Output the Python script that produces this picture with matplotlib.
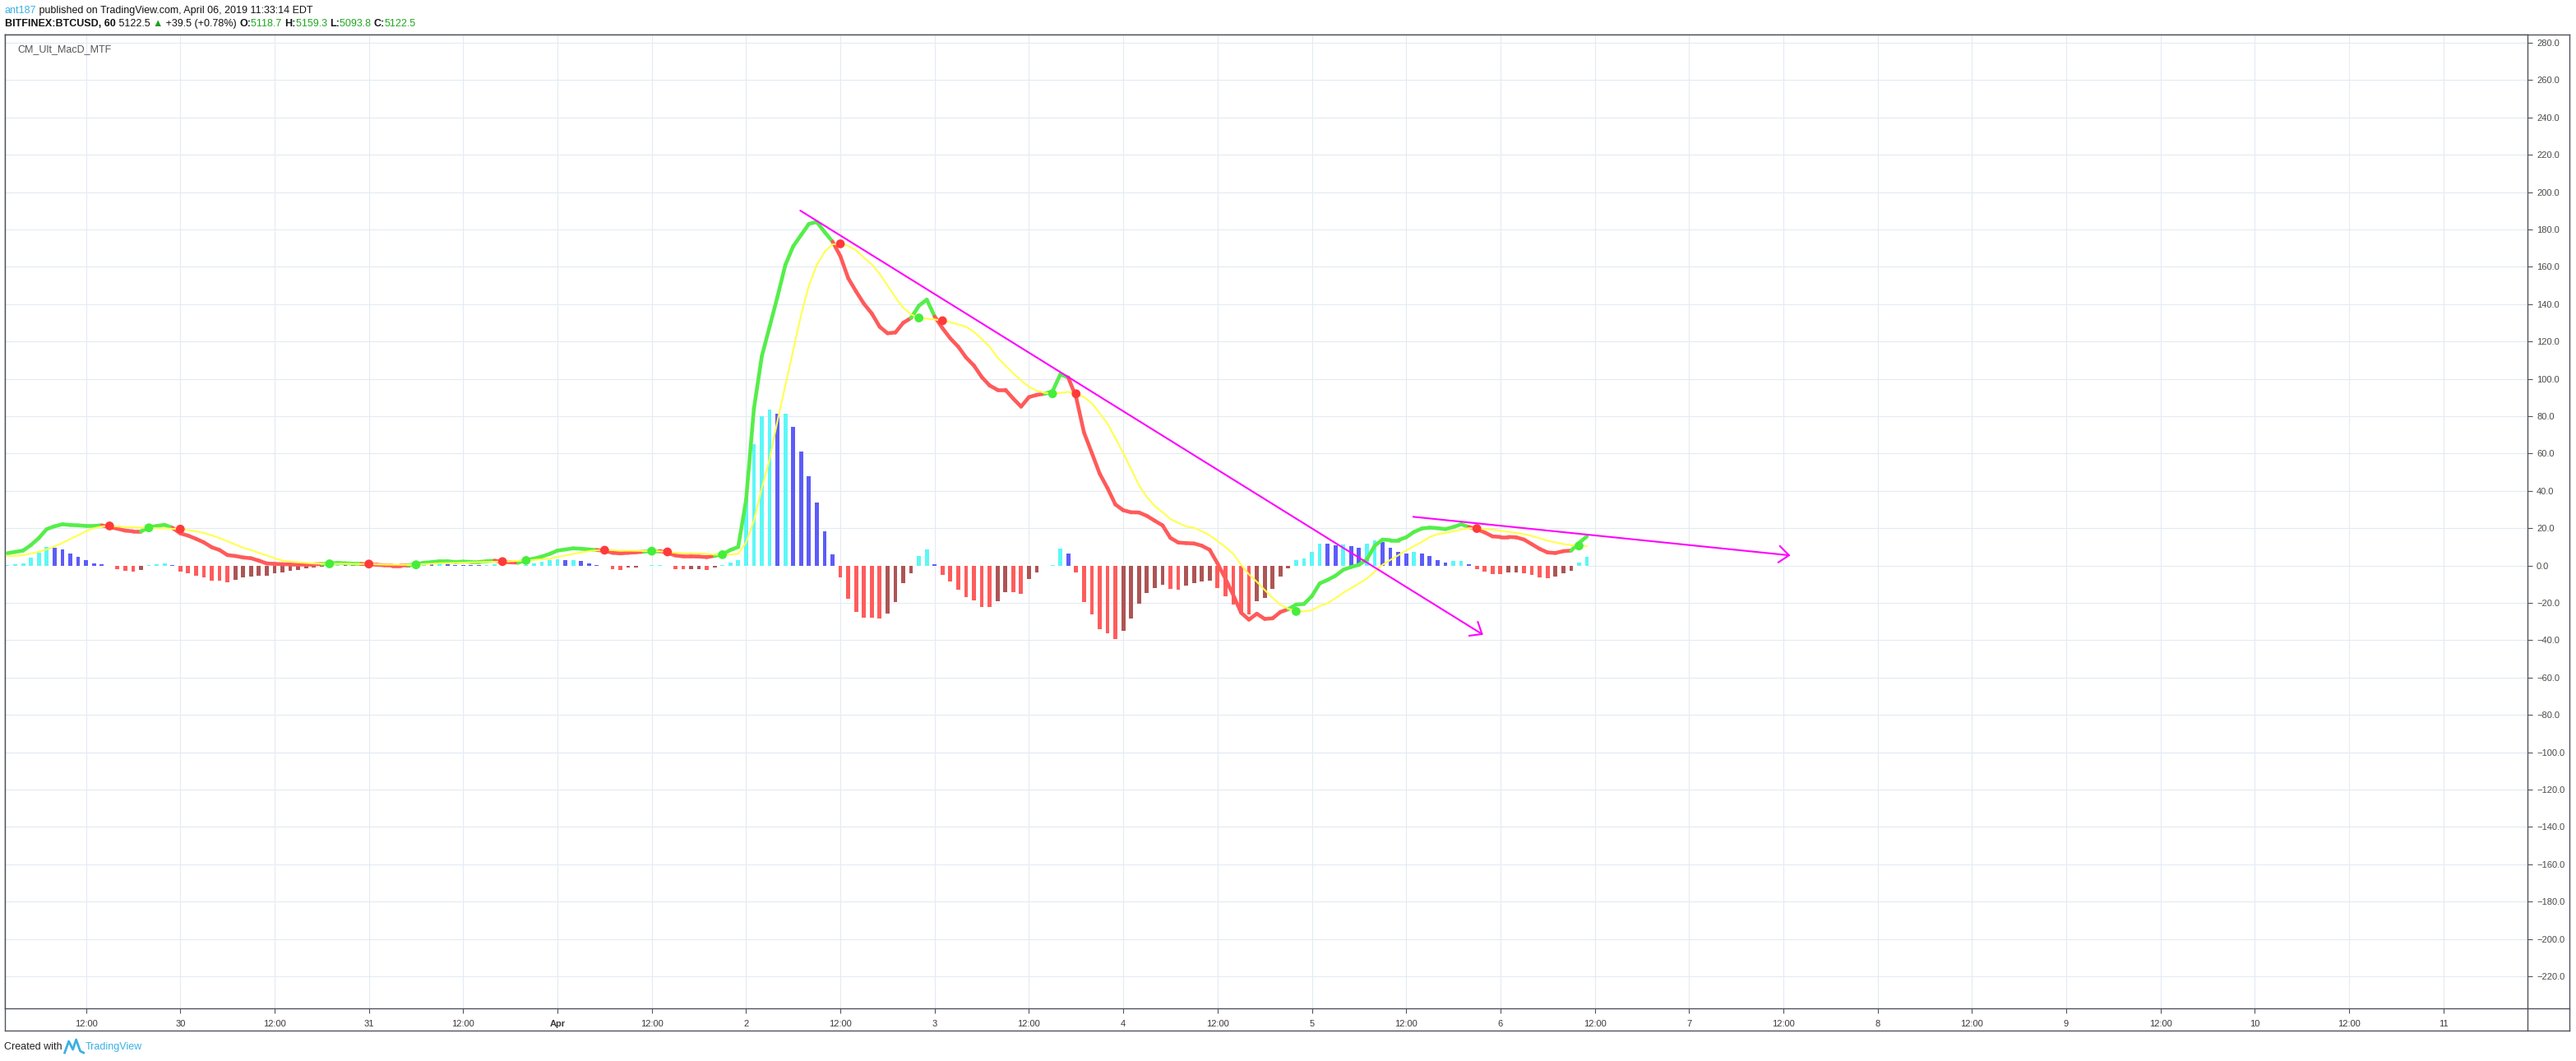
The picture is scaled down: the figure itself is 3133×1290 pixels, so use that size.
import numpy as np
import matplotlib
matplotlib.use("Agg")
import matplotlib.pyplot as plt
from matplotlib.collections import LineCollection
from matplotlib.lines import Line2D

W, H = 3133, 1290

# hourly bars, counted in hours from 29 Mar 2019 00:00
hours = list(range(2, 204))

macd = [
    6.6, 7.3, 8.0, 11.0, 14.7, 19.5, 21.0, 22.1, 21.7, 21.5, 21.2, 21.2,
    21.5, 20.6, 19.7, 18.7, 18.3, 18.3, 20.4, 21.2, 21.8, 20.2, 17.2, 16.0,
    14.3, 12.4, 9.8, 8.3, 5.6, 5.1, 4.3, 3.9, 2.6, 1.1, 0.9, 0.7,
    0.6, 0.6, 0.6, 0.6, 0.8, 1.1, 1.4, 1.2, 1.0, 0.9, 0.6, 0.4,
    0.1, 0.0, 0.0, 0.1, 0.7, 1.5, 1.8, 2.3, 2.3, 1.8, 2.1, 1.9,
    1.9, 2.3, 2.6, 1.9, 1.7, 1.5, 2.9, 3.7, 4.8, 6.2, 8.0, 8.6,
    9.2, 9.0, 8.6, 8.3, 7.9, 6.8, 6.5, 6.8, 7.1, 7.4, 7.8, 7.8,
    6.8, 5.4, 4.9, 4.9, 4.8, 4.5, 5.2, 6.0, 8.3, 9.9, 35.0, 84.0,
    112.0, 128.0, 144.0, 161.0, 171.0, 177.0, 183.0, 184.0, 178.6, 173.5, 165.7, 153.9,
    146.8, 140.2, 135.0, 127.9, 124.4, 124.8, 130.0, 132.6, 139.2, 142.4, 133.4, 127.1,
    121.6, 117.2, 111.4, 107.1, 100.9, 96.4, 94.1, 94.1, 89.4, 85.1, 90.2, 91.4,
    92.0, 93.3, 102.4, 100.7, 90.2, 71.3, 60.3, 49.2, 41.4, 32.7, 29.6, 28.5,
    28.4, 26.6, 24.0, 21.5, 14.8, 12.3, 12.0, 11.8, 10.6, 8.4, 1.1, -7.0,
    -15.8, -25.3, -29.0, -25.8, -28.6, -28.3, -24.9, -23.4, -20.9, -20.6, -16.4, -9.6,
    -7.7, -5.5, -2.3, -0.8, 0.4, 3.3, 10.6, 13.9, 13.6, 13.6, 15.1, 18.0,
    19.8, 20.3, 20.0, 19.5, 20.6, 22.1, 20.6, 19.5, 17.7, 15.6, 15.3, 15.3,
    15.1, 13.9, 11.4, 8.9, 7.0, 6.7, 7.7, 8.0, 12.1, 15.6,
]

signal = [
    5.1, 5.2, 5.5, 6.4, 7.4, 8.6, 10.3, 12.1, 14.2, 16.2, 18.3, 20.0,
    20.9, 21.2, 20.9, 20.6, 20.5, 20.3, 20.2, 20.0, 19.9, 19.7, 19.5, 19.0,
    18.3, 17.4, 16.2, 14.7, 13.0, 11.2, 9.5, 8.3, 6.8, 5.4, 3.9, 2.6,
    2.1, 1.7, 1.4, 1.1, 0.95, 0.9, 0.9, 0.9, 0.85, 0.8, 0.8, 0.6,
    0.5, 0.45, 0.4, 0.4, 0.4, 0.7, 0.9, 1.2, 1.3, 1.4, 1.5, 1.7,
    1.8, 1.9, 2.0, 2.1, 2.3, 2.5, 2.7, 3.0, 3.3, 3.7, 4.5, 5.4,
    6.2, 7.0, 7.7, 8.1, 8.2, 8.2, 8.0, 7.95, 7.9, 7.8, 7.7, 7.6,
    7.3, 6.8, 6.5, 6.5, 6.4, 6.2, 5.9, 5.8, 5.9, 6.3, 12.3, 24.0,
    41.4, 57.0, 77.6, 96.4, 115.3, 134.2, 150.0, 161.0, 168.0, 172.0, 172.3, 171.2,
    168.8, 164.9, 161.3, 156.2, 150.0, 143.6, 138.1, 134.5, 132.6, 132.2, 131.8, 131.1,
    130.3, 129.2, 127.9, 125.1, 121.3, 117.2, 111.4, 107.1, 103.0, 99.1, 95.7, 93.6,
    92.5, 92.0, 92.5, 93.0, 92.0, 90.2, 87.0, 81.5, 76.0, 68.1, 60.3, 51.6,
    43.0, 36.7, 31.9, 28.5, 24.9, 22.8, 20.9, 20.2, 18.3, 16.2, 13.1, 9.9,
    6.2, 0.4, -4.8, -8.7, -13.1, -17.3, -21.0, -23.1, -24.6, -24.6, -23.9, -21.7,
    -20.2, -17.5, -14.6, -12.1, -9.6, -7.0, -3.3, 0.4, 3.0, 5.5, 8.0, 10.4,
    12.6, 15.3, 16.8, 17.4, 18.3, 19.2, 20.0, 19.8, 19.5, 19.2, 18.6, 18.0,
    17.5, 16.8, 15.8, 14.6, 13.3, 12.4, 11.5, 10.9, 10.5, 10.3,
]

hist = [
    0.3, 0.7, 1.0, 4.2, 6.8, 9.8, 9.6, 8.6, 6.2, 4.6, 2.9, 1.1,
    0.6, -0.3, -2.1, -2.7, -3.2, -2.3, 0.1, 0.5, 1.0, 0.3, -3.2, -4.0,
    -5.4, -6.2, -8.0, -8.1, -8.9, -7.6, -6.2, -5.8, -5.4, -5.3, -4.2, -3.6,
    -3.0, -2.6, -1.7, -1.2, -0.8, 0.3, 0.5, 0.3, 0.2, 0.1, -0.2, -0.25,
    -0.3, -1.1, -1.0, -0.9, 0.2, 1.1, 0.7, 0.75, 0.7, 0.4, 0.3, 0.2,
    0.1, 0.3, 0.5, -0.2, -0.3, -0.35, 0.2, 1.1, 2.0, 2.7, 3.3, 3.0,
    3.05, 2.4, 1.1, 0.3, -0.2, -2.0, -2.3, -1.2, -1.15, -0.3, 0.1, 0.15,
    -0.2, -1.8, -2.1, -2.0, -1.95, -2.2, -1.2, 0.1, 1.6, 2.8, 35.9, 65.0,
    80.0, 83.5, 81.3, 81.5, 74.3, 61.0, 47.8, 33.7, 18.3, 6.0, -6.3, -17.6,
    -24.7, -27.8, -27.9, -28.3, -25.6, -19.5, -9.3, -4.2, 4.9, 8.7, 0.5, -5.0,
    -8.5, -12.9, -17.1, -18.9, -22.0, -22.1, -19.0, -14.2, -14.5, -15.1, -7.1, -3.6,
    -0.3, 0.2, 9.0, 6.5, -3.9, -19.5, -26.3, -34.0, -36.2, -39.2, -35.2, -28.3,
    -20.5, -14.6, -12.1, -10.2, -12.4, -12.9, -10.8, -9.3, -8.4, -8.0, -12.0, -16.4,
    -20.9, -25.6, -26.3, -19.0, -17.3, -12.6, -5.9, -1.5, 2.9, 3.7, 7.3, 11.7,
    11.6, 10.8, 11.1, 10.4, 9.5, 11.7, 13.3, 12.6, 9.5, 7.3, 6.5, 7.3,
    6.5, 5.1, 2.9, 1.7, 2.4, 2.5, 0.7, -1.8, -3.2, -4.4, -4.5, -3.9,
    -3.6, -4.0, -5.0, -6.3, -6.6, -5.7, -4.1, -2.8, 1.4, 4.5,
]

tick_hours = [12, 24, 36, 48, 60, 72, 84, 96, 108, 120, 132, 144, 156,
              168, 180, 192, 204, 216, 228, 240, 252, 264, 276, 288, 300, 312]
tick_labels = ["12:00", "30", "12:00", "31", "12:00", "Apr", "12:00", "2", "12:00",
               "3", "12:00", "4", "12:00", "5", "12:00", "6", "12:00", "7", "12:00",
               "8", "12:00", "9", "12:00", "10", "12:00", "11"]
y_ticks = list(range(-220, 281, 20))

# hand drawn trend lines (start, end)
trend_down = [(102.9, 190.1), (189.8, -37.1)]
trend_flat = [(180.9, 26.1), (228.9, 5.4)]

plt.rcParams["font.family"] = ["Liberation Sans", "DejaVu Sans"]
narrow = ["Liberation Sans Narrow", "Liberation Sans", "DejaVu Sans"]
border = "#50535e"

fig = plt.figure(figsize=(W / 100, H / 100), dpi=100)


def px_rect(x0, y0, x1, y1):
    return [x0 / W, 1 - y1 / H, (x1 - x0) / W, (y1 - y0) / H]


# outer frame incl. price and time scales
frame = fig.add_axes(px_rect(6, 42, 3125, 1253))
frame.set_xticks([])
frame.set_yticks([])
for s in frame.spines.values():
    s.set_color(border)
    s.set_linewidth(1.0)

ax = fig.add_axes(px_rect(6, 42, 3074, 1226))
for s in ax.spines.values():
    s.set_color(border)
    s.set_linewidth(1.0)
fig.add_artist(Line2D([3074 / W, 3125 / W], [1 - 1226 / H] * 2, color=border, lw=1.0))
fig.add_artist(Line2D([3074 / W] * 2, [1 - 1226 / H, 1 - 1253 / H], color=border, lw=1.0))

ax.set_xlim(1.685, 322.7)
ax.set_ylim(-237.2, 284.4)
ax.set_axisbelow(True)
ax.grid(True, color="#e3ebf2", lw=0.8)

# histogram colours: rising / falling above and below zero
bar_colors = []
for i, v in enumerate(hist):
    prev = hist[i - 1] if i > 0 else v - 1
    if v > 0:
        bar_colors.append("#5cf7f7" if v > prev else "#5c5cf9")
    else:
        bar_colors.append("#ff5c5c" if v < prev else "#ad5555")

ax.plot([hours[0], hours[-1]], [0, 0], color="white", lw=1.6, zorder=1.5)
ax.bar(hours, hist, width=0.5, color=bar_colors, linewidth=0, zorder=2)

up = [m >= s for m, s in zip(macd, signal)]
pts = np.column_stack([hours, macd])
segs = [[pts[i - 1], pts[i]] for i in range(1, len(pts))]
seg_colors = ["#55ee4a" if up[i] else "#ff5a5a" for i in range(1, len(pts))]
lc = LineCollection(segs, colors=seg_colors, linewidths=3.3, capstyle="round",
                    joinstyle="round", zorder=3)
ax.add_collection(lc)

ax.plot(hours, signal, color="#ffff4d", lw=1.5, zorder=4)

cx, cy, cc = [], [], []
for i in range(1, len(hours)):
    if up[i] != up[i - 1]:
        cx.append(hours[i])
        cy.append(signal[i])
        cc.append("#45ee3a" if up[i] else "#ff3a3a")
ax.scatter(cx, cy, s=60, c=cc, linewidths=0, zorder=5)

for (x0, y0), (x1, y1) in (trend_down, trend_flat):
    ax.annotate("", xy=(x1, y1), xytext=(x0, y0),
                arrowprops=dict(arrowstyle="->,head_length=0.55,head_width=0.45",
                                color="#ff00ff", lw=1.5, shrinkA=0, shrinkB=0,
                                mutation_scale=16),
                zorder=6)

ax.yaxis.tick_right()
ax.set_yticks(y_ticks)
ax.set_yticklabels([f"{v:.1f}".replace("-", "\u2212") for v in y_ticks])
ax.tick_params(axis="y", length=4, width=0.8, color=border, labelsize=8,
               labelcolor="#4a4a4a", pad=4)
ax.set_xticks(tick_hours)
ax.set_xticklabels(tick_labels, family=narrow)
ax.tick_params(axis="x", length=4, width=0.8, color=border, labelsize=8,
               labelcolor="#3a3a3a", pad=6)
for lab in ax.get_xticklabels():
    if lab.get_text() == "Apr":
        lab.set_fontweight("bold")

ax.text(15 / 3068, 1 - (60 - 42) / 1184, "CM_Ult_MacD_MTF", transform=ax.transAxes,
        fontsize=9, color="#555555", va="center", ha="left")

renderer = fig.canvas.get_renderer()


def text_run(x_px, y_px, parts, size=9):
    x = x_px
    for s, color, weight in parts:
        t = fig.text(x / W, 1 - y_px / H, s, color=color, fontweight=weight,
                     fontsize=size, va="center", ha="left")
        x += t.get_window_extent(renderer).width
    return x


dark = "#131313"
green = "#1fa81f"
text_run(6, 13, [("ant187", "#3bb0e2", "normal"),
                 (" published on TradingView.com, April 06, 2019 11:33:14 EDT", dark, "normal")])
text_run(6, 29, [("BITFINEX:BTCUSD, 60", dark, "bold"), (" 5122.5 ", dark, "normal"),
                 ("\u25B2", "#1f9f1f", "normal"), (" +39.5 (+0.78%) ", dark, "normal"),
                 ("O:", dark, "bold"), ("5118.7 ", green, "normal"),
                 ("H:", dark, "bold"), ("5159.3 ", green, "normal"),
                 ("L:", dark, "bold"), ("5093.8 ", green, "normal"),
                 ("C:", dark, "bold"), ("5122.5", green, "normal")])

# footer
t = fig.text(5 / W, 1 - 1273 / H, "Created with", fontsize=9, color="#222222",
             va="center", ha="left", family=narrow)
xe = 5 + t.get_window_extent(renderer).width + 3
logo_x = [xe, xe + 5, xe + 10, xe + 14, xe + 19, xe + 23]
logo_y = [1280, 1266, 1276, 1264, 1278, 1280]
fig.add_artist(Line2D([v / W for v in logo_x], [1 - v / H for v in logo_y],
                      color="#3bb0e2", lw=2.0))
fig.text((xe + 25) / W, 1 - 1273 / H, "TradingView", fontsize=9, color="#3bb0e2",
         va="center", ha="left", family=narrow)

fig.savefig("out.png", dpi=100)
